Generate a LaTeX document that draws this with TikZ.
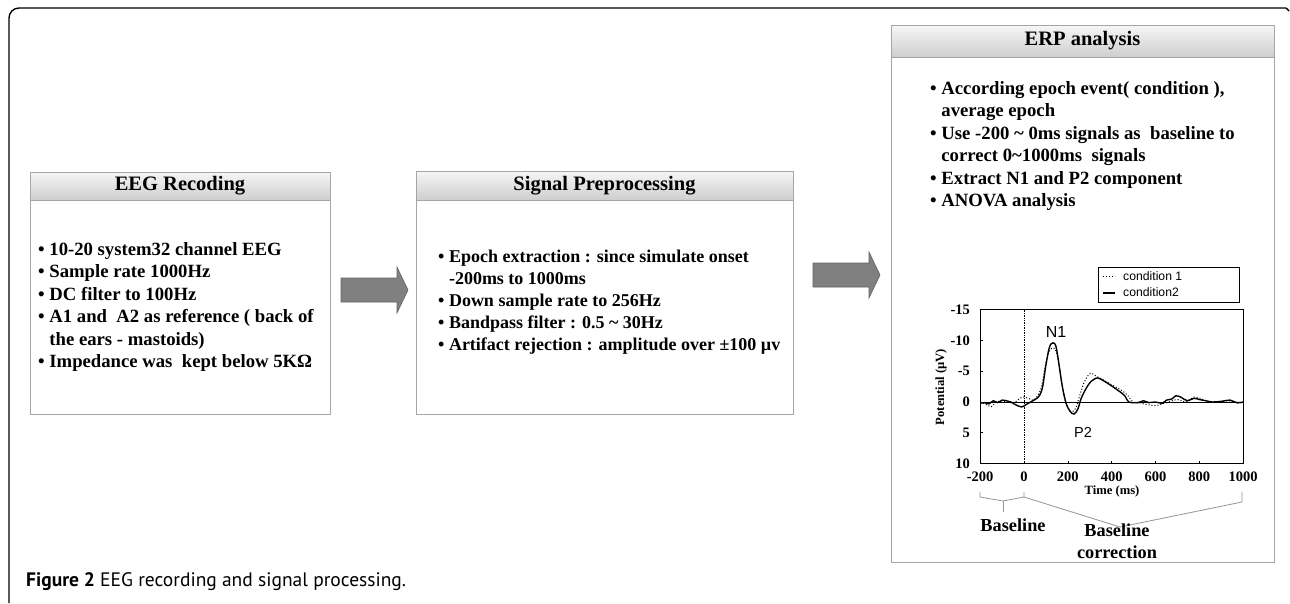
\documentclass[tikz,border=0pt]{standalone}
\usepackage{fontspec}
\setmainfont{Liberation Serif}
\newfontfamily\capfont{PT Sans}
\newfontfamily\legfont{Liberation Sans}
\usetikzlibrary{calc}
\definecolor{boxline}{RGB}{166,166,166}
\definecolor{headtop}{RGB}{246,246,246}
\definecolor{headbot}{RGB}{206,206,206}
\definecolor{arrowfill}{RGB}{128,128,128}
\definecolor{arrowline}{RGB}{98,98,98}
\definecolor{bracketline}{RGB}{150,150,150}
\tikzset{
  stagebox/.style={draw=boxline, line width=1pt, fill=white, inner sep=0},
  stagehead/.style={draw=boxline, line width=1pt, top color=headtop, bottom color=headbot,
    inner sep=0, anchor=north, font=\bfseries\fontsize{20.5}{24}\selectfont},
  bullets/.style={anchor=west, align=left, inner sep=0, font=\bfseries\fontsize{18.7}{22.4}\selectfont},
  fatarrow/.style={fill=arrowfill, draw=arrowline, line width=0.6pt},
  ticklab/.style={font=\bfseries\fontsize{14.5}{16}\selectfont, inner sep=0},
  axlab/.style={font=\bfseries\fontsize{12.6}{14}\selectfont, inner sep=0},
  peaklab/.style={font=\legfont\fontsize{16}{18}\selectfont, inner sep=0},
  leglab/.style={font=\legfont\fontsize{12.2}{14}\selectfont, anchor=west, inner sep=0},
  bracket/.style={draw=bracketline, line width=0.8pt},
  phaselab/.style={font=\bfseries\fontsize{18.3}{22}\selectfont, align=center, inner sep=0},
  cond1/.style={line width=1pt, dotted},
  cond2/.style={line width=1.4pt}
}
\newcommand{\blockarrow}[2]{%
  \path[fatarrow] let \p1=(#1), \p2=(#2) in
    (\x1,\y1+12pt) -- (\x2-11pt,\y1+12pt) -- (\x2-11pt,\y1+23pt) -- (\x2,\y1)
    -- (\x2-11pt,\y1-23pt) -- (\x2-11pt,\y1-12pt) -- (\x1,\y1-12pt) -- cycle;}
\begin{document}
\begin{tikzpicture}[x=1pt, y=-1pt]
\useasboundingbox (0,0) rectangle (1290,603);
\draw[line width=1.4pt, rounded corners=10pt] (9,603) -- (9,8) -- (1286,8);
\draw[line width=1.4pt] (1286,8) -- (1289,11);

\node[stagebox, minimum width=300, minimum height=242] (rec) at (180,293) {};
\node[stagehead, minimum width=300, minimum height=28] (rechead) at (rec.north) {EEG Recoding};
\node[bullets] (rectext) at (38,307) {\textbullet\ 10-20 system32 channel EEG\\
\textbullet\ Sample rate 1000Hz\\
\textbullet\ DC filter to 100Hz\\
\textbullet\ A1 and\ \ A2 as reference ( back of\\
\hphantom{\textbullet\ }the ears - mastoids)\\
\textbullet\ Impedance was\ \ kept below 5KΩ};

\node[stagebox, minimum width=377, minimum height=243] (pre) at (604.5,292.5) {};
\node[stagehead, minimum width=377, minimum height=29] (prehead) at (pre.north) {Signal Preprocessing};
\node[bullets, font=\bfseries\fontsize{18}{22}\selectfont] (pretext) at (438,302) {\textbullet\ Epoch extraction : since simulate onset\\
\hphantom{\textbullet\ }-200ms to 1000ms\\
\textbullet\ Down sample rate to 256Hz\\
\textbullet\ Bandpass filter : 0.5 \textasciitilde\ 30Hz\\
\textbullet\ Artifact rejection : amplitude over ±100 µv};

\node[stagebox, minimum width=383, minimum height=537] (erp) at (1082.5,293.5) {};
\node[stagehead, minimum width=383, minimum height=32] (erphead) at (erp.north) {ERP analysis};
\node[bullets] (erptext) at (930,146) {\textbullet\ According epoch event( condition ),\\
\hphantom{\textbullet\ }average epoch\\
\textbullet\ Use -200 \textasciitilde\ 0ms signals as\ \ baseline to\\
\hphantom{\textbullet\ }correct 0\textasciitilde 1000ms\ \ signals\\
\textbullet\ Extract N1 and P2 component\\
\textbullet\ ANOVA analysis};

\coordinate (a1s) at (341,290);
\coordinate (a1t) at (408,290);
\coordinate (a2s) at (813,275);
\coordinate (a2t) at (880,275);
\blockarrow{a1s}{a1t}
\blockarrow{a2s}{a2t}

\begin{scope}[shift={(1024,402)}, x=0.2192pt, y=-6.16pt]
\draw[line width=0.9pt] (-200,-15) rectangle (1000,10);
\draw[line width=0.7pt] (-200,0) -- (1000,0);
\draw[densely dotted, line width=0.7pt] (0,-15) -- (0,10);
\foreach \x in {-200,0,...,1000}
{
    \draw[line width=0.7pt] (\x,10) -- (\x,9.5);
    \node[ticklab, below=8pt] at (\x,10) {\x};
}
\foreach \y in {-15,-10,...,10}
{
    \draw[line width=0.7pt] (-200,\y) -- (-188,\y);
    \node[ticklab, left=10pt] at (-200,\y) {\y};
}
\draw[cond1] plot[smooth, tension=0.55] coordinates {(-200,0.1) (-175,0.3) (-150,0.8) (-130,0.1)
  (-100,-0.2) (-70,0.1) (-40,0) (-20,-0.6) (0,-0.8) (20,-0.6) (40,-0.3) (60,-0.9) (80,-2.5)
  (100,-6.5) (120,-8.5) (140,-8.7) (155,-7) (170,-3.5) (185,-0.6) (203,1.1) (219,1.6) (236,1)
  (252,-0.8) (272,-3) (292,-4.3) (306,-4.7) (325,-4.3) (360,-3.6) (400,-2.8) (440,-2)
  (470,-1.2) (497,0) (520,0.1) (560,0.4) (600,0.6) (630,0.3) (660,0) (700,-0.4) (740,0)
  (775,-0.8) (810,-0.5) (850,0) (900,-0.1) (940,-0.2) (975,0.2) (1000,0)};
\draw[cond2] plot[smooth, tension=0.55] coordinates {(-200,0.2) (-180,0.1) (-160,0.3) (-140,-0.2)
  (-120,0.1) (-100,-0.3) (-80,-0.2) (-60,0) (-35,0.5) (-10,0.8) (10,0.4) (30,0) (50,-0.4)
  (70,-1) (85,-2.5) (100,-6) (116,-8.9) (132,-9.6) (146,-9) (160,-6) (175,-2.5) (192,0.2)
  (210,1.5) (228,1.95) (245,1.2) (260,-0.5) (280,-2) (300,-3.1) (320,-3.7) (338,-3.9)
  (370,-3.3) (400,-2.6) (440,-1.6) (462,-0.9) (478,0) (520,0.1) (545,-0.2) (570,0.1) (600,0)
  (630,0.2) (650,-0.3) (675,-0.5) (692,-1) (715,-0.8) (745,-0.2) (775,-0.6) (800,-0.4)
  (830,-0.2) (860,0) (900,-0.1) (940,-0.3) (970,0.1) (1000,0)};
\end{scope}

\node[peaklab] (n1) at (1056,332) {N1};
\node[peaklab, font=\legfont\fontsize{14.5}{16}\selectfont] (p2) at (1083,432) {P2};
\node[axlab] (tlab) at (1112,491) {Time (ms)};
\node[axlab, rotate=90] (plab) at (941,387) {Potential (µV)};

\node[draw, line width=0.7pt, minimum width=141, minimum height=35, inner sep=0] (leg) at (1168.5,284.5) {};
\draw[line width=1pt, dotted] (1103,276) -- (1115,276);
\draw[line width=2pt] (1103,293) -- (1115,293);
\node[leglab] (c1lab) at (1123,276) {condition 1};
\node[leglab] (c2lab) at (1123,292) {condition2};

\coordinate (b1) at (980,492);
\coordinate (b2) at (1003,501);
\coordinate (b3) at (1024,492);
\coordinate (b4) at (1120,527);
\coordinate (b5) at (1242,492);
\draw[bracket] (b1) -- ++(0,5) -- (b2) -- ($(b3)+(0,5)$) -- (b3);
\draw[bracket] (b2) -- ++(0,11);
\draw[bracket] ($(b3)+(0,5)$) -- (b4) -- ($(b5)+(0,10)$) -- (b5);
\node[phaselab] (blab) at (1013,525) {Baseline};
\node[phaselab] (clab) at (1117,541) {Baseline\\correction};

\node[anchor=west, inner sep=0, font=\capfont\fontsize{19.5}{22}\selectfont] (caption) at (26,582)
  {\textbf{Figure 2} EEG recording and signal processing.};
\end{tikzpicture}
\end{document}
